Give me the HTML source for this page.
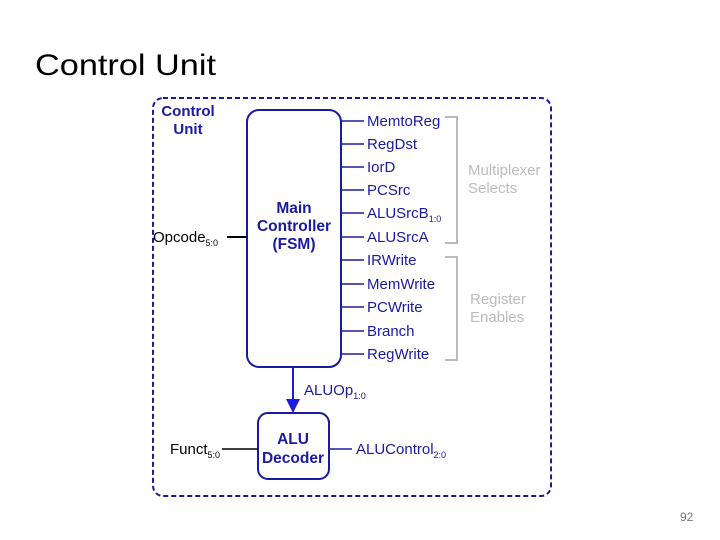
<!DOCTYPE html><html><head><style>body{margin:0;background:#fff}svg{display:block}</style></head><body>
<svg width="720" height="540" xmlns="http://www.w3.org/2000/svg" font-family="Liberation Sans, sans-serif">
<text x="35" y="75" font-size="30" fill="#000" textLength="181" lengthAdjust="spacingAndGlyphs">Control Unit</text>
<rect x="153" y="98" width="398" height="398" rx="10" fill="none" stroke="#1a1a9a" stroke-width="2" stroke-dasharray="5,3"/>
<text x="188" y="116" font-size="15" font-weight="bold" fill="#1a1aa0" text-anchor="middle">Control</text>
<text x="188" y="134" font-size="15" font-weight="bold" fill="#1a1aa0" text-anchor="middle">Unit</text>
<rect x="247" y="110" width="94" height="257" rx="12" fill="#fff" stroke="#1a1aa0" stroke-width="2"/>
<g font-size="15.5" font-weight="bold" fill="#1a1aa0" text-anchor="middle"><text x="294" y="213">Main</text><text x="294" y="231">Controller</text><text x="294" y="249">(FSM)</text></g>
<text x="153" y="242" font-size="15" fill="#000">Opcode<tspan font-size="9" dy="4">5:0</tspan></text>
<line x1="227" y1="237" x2="247" y2="237" stroke="#000" stroke-width="2"/>
<g stroke="#1a1aa0" stroke-width="1.5">
<line x1="341" y1="121" x2="364" y2="121"/><line x1="341" y1="144" x2="364" y2="144"/><line x1="341" y1="167" x2="364" y2="167"/><line x1="341" y1="190" x2="364" y2="190"/><line x1="341" y1="213" x2="364" y2="213"/><line x1="341" y1="237" x2="364" y2="237"/><line x1="341" y1="260" x2="364" y2="260"/><line x1="341" y1="284" x2="364" y2="284"/><line x1="341" y1="307" x2="364" y2="307"/><line x1="341" y1="331" x2="364" y2="331"/><line x1="341" y1="354" x2="364" y2="354"/></g>
<g font-size="15" fill="#1a1aa0">
<text x="367" y="126">MemtoReg</text><text x="367" y="149">RegDst</text><text x="367" y="172">IorD</text><text x="367" y="195">PCSrc</text><text x="367" y="218">ALUSrcB<tspan font-size="9" dy="4">1:0</tspan></text><text x="367" y="242">ALUSrcA</text><text x="367" y="265">IRWrite</text><text x="367" y="289">MemWrite</text><text x="367" y="312">PCWrite</text><text x="367" y="336">Branch</text><text x="367" y="359">RegWrite</text></g>
<g fill="none" stroke="#bbb" stroke-width="2"><polyline points="445,117 457,117 457,243 445,243"/><polyline points="445,257 457,257 457,360 445,360"/></g>
<g font-size="15" fill="#bbb"><text x="468" y="175">Multiplexer</text><text x="468" y="193">Selects</text><text x="470" y="304">Register</text><text x="470" y="322">Enables</text></g>
<line x1="293" y1="367" x2="293" y2="400" stroke="#1a1ae0" stroke-width="2"/>
<polygon points="286,399 300,399 293,413" fill="#1a1ae0"/>
<text x="304" y="395" font-size="15" fill="#1a1aa0">ALUOp<tspan font-size="9" dy="4">1:0</tspan></text>
<rect x="258" y="413" width="71" height="66" rx="10" fill="#fff" stroke="#1a1aa0" stroke-width="2"/>
<g font-size="15.5" font-weight="bold" fill="#1a1aa0" text-anchor="middle"><text x="293" y="444">ALU</text><text x="293" y="463">Decoder</text></g>
<text x="170" y="454" font-size="15" fill="#000">Funct<tspan font-size="9" dy="4">5:0</tspan></text>
<line x1="222" y1="449" x2="258" y2="449" stroke="#000" stroke-width="1.5"/>
<line x1="329" y1="449" x2="352" y2="449" stroke="#1a1aa0" stroke-width="1.5"/>
<text x="356" y="454" font-size="15" fill="#1a1aa0">ALUControl<tspan font-size="9" dy="4">2:0</tspan></text>
<text x="680" y="521" font-size="12" fill="#777">92</text>
</svg></body></html>
